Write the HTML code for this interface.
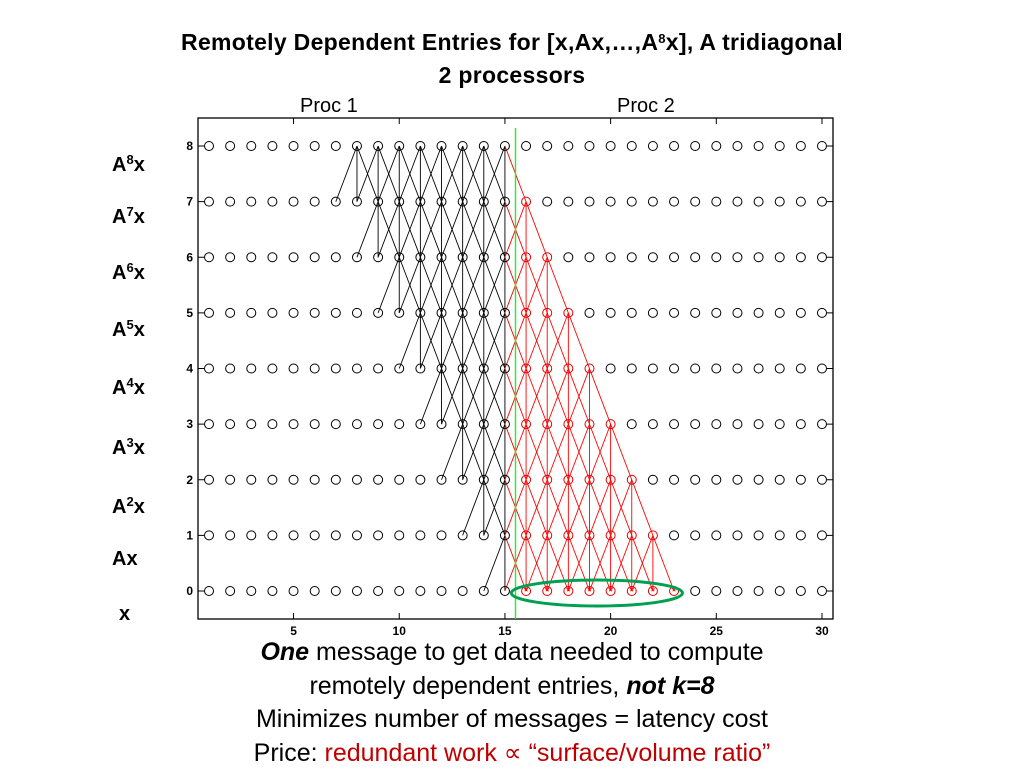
<!DOCTYPE html>
<html><head><meta charset="utf-8"><style>
body{margin:0;background:#fff;width:1024px;height:768px;overflow:hidden;position:relative;font-family:"Liberation Sans",sans-serif}
.t{position:absolute;left:0;width:1024px;text-align:center;color:#000}
.lab{position:absolute;left:112px;font-weight:bold;font-size:20px}
sup{font-size:13px;vertical-align:7px;line-height:0}
</style></head><body>
<div class="t" style="top:26px;font-weight:bold;font-size:23px;line-height:33px;letter-spacing:0.3px">Remotely Dependent Entries for [x,Ax,…,A<sup>8</sup>x], A tridiagonal<br>2 processors</div>
<div style="position:absolute;left:300px;top:95px;font-size:20px">Proc 1</div>
<div style="position:absolute;left:617px;top:95px;font-size:20px">Proc 2</div>
<div class="lab" style="top:154px">A<sup>8</sup>x</div>
<div class="lab" style="top:206px">A<sup>7</sup>x</div>
<div class="lab" style="top:262px">A<sup>6</sup>x</div>
<div class="lab" style="top:319px">A<sup>5</sup>x</div>
<div class="lab" style="top:377px">A<sup>4</sup>x</div>
<div class="lab" style="top:437px">A<sup>3</sup>x</div>
<div class="lab" style="top:496px">A<sup>2</sup>x</div>
<div class="lab" style="top:548px">Ax</div>
<div class="lab" style="top:603px;left:119px">x</div>
<svg id="c" width="1024" height="768" style="position:absolute;left:0;top:0"></svg>
<div class="t" style="top:636px;font-size:25px;line-height:33.5px">
<div><b><i>One</i></b> message to get data needed to compute</div>
<div>remotely dependent entries, <b><i>not k=8</i></b></div>
<div>Minimizes number of messages = latency cost</div>
<div>Price: <span style="color:#c00000">redundant work ∝ “surface/volume ratio”</span></div>
</div>
<script>
const nPoints = 30;
const levels = [0,1,2,3,4,5,6,7,8];
const xTicks = [5,10,15,20,25,30];
const yTicks = [0,1,2,3,4,5,6,7,8];
const procBoundary = 15.5;
const localLast = 15;
const kSteps = 8;
const circledRange = [16,23];
const NS='http://www.w3.org/2000/svg';
const svg=document.getElementById('c');
const L=198,R=833,T=118,B=619;
const X=v=>209+(v-1)*(822-209)/29;
const Y=v=>591-v*(591-146)/8;
function el(t,a){const e=document.createElementNS(NS,t);for(const k in a)e.setAttribute(k,a[k]);svg.appendChild(e);return e;}
let ax=el('rect',{x:L,y:T,width:R-L,height:B-T,fill:'none',stroke:'#000','stroke-width':1.3});


xTicks.forEach(v=>{
  el('line',{x1:X(v),x2:X(v),y1:B,y2:B-6,stroke:'#000'});
  el('line',{x1:X(v),x2:X(v),y1:T,y2:T+6,stroke:'#000'});
  const t=el('text',{x:X(v),y:B+16,'text-anchor':'middle','font-size':12,'font-weight':'bold','font-family':'Liberation Sans'});
  t.textContent=v;
  
  
});
yTicks.forEach(v=>{
  el('line',{x1:L,x2:L+6,y1:Y(v),y2:Y(v),stroke:'#000'});
  el('line',{x1:R,x2:R-6,y1:Y(v),y2:Y(v),stroke:'#000'});
  const t=el('text',{x:L-5,y:Y(v)+4,'text-anchor':'end','font-size':12,'font-weight':'bold','font-family':'Liberation Sans'});
  t.textContent=v;
  
  
});
for(let k=kSteps;k>=1;k--){
  const srcs=[];
  for(let i=localLast+1-k;i<=localLast;i++)srcs.push(i);
  for(let i=localLast+1;i<=localLast+kSteps-k;i++)srcs.push(i);
  srcs.forEach(i=>{
    [i-1,i,i+1].forEach(j=>{
      const red=(i>localLast||j>localLast);
      const ln=el('line',{x1:X(i),y1:Y(k),x2:X(j),y2:Y(k-1),stroke:red?'#ff0000':'#000','stroke-width':0.9});
      
      
    });
  });
}
levels.forEach(k=>{
  for(let i=1;i<=nPoints;i++){
    const red=i>localLast && i<=localLast+kSteps-k && k<kSteps;
    const c=el('circle',{cx:X(i),cy:Y(k),r:4.5,fill:'none',stroke:red?'#e00000':'#000','stroke-width':1});
    
    
    if(k===0&&i>=circledRange[0]&&i<=circledRange[1]){
      const s=el('text',{x:X(i),y:Y(0)+5,'text-anchor':'middle','font-size':13,fill:'#f00','font-family':'Liberation Sans'});
      s.textContent='*';
      
      
    }
  }
});
const g=el('line',{x1:X(procBoundary),x2:X(procBoundary),y1:T+10,y2:B,stroke:'#22ee22','stroke-width':1.4});


const e=el('ellipse',{cx:(X(circledRange[0]-0.7)+X(circledRange[1]+0.4))/2,cy:Y(0)+2,rx:(X(circledRange[1]+0.4)-X(circledRange[0]-0.7))/2,ry:13,fill:'none',stroke:'#00a050','stroke-width':3});


</script>
</body></html>
